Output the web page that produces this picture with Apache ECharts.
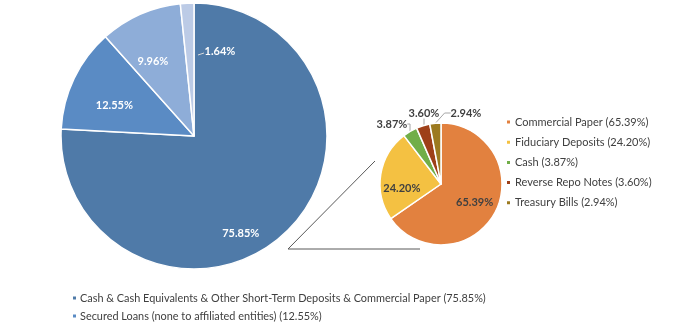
<!DOCTYPE html>
<html>
<head>
<meta charset="utf-8">
<script src="https://cdn.jsdelivr.net/npm/echarts@6/dist/echarts.min.js"></script>
<style>html,body{margin:0;padding:0;background:#fff}#c{width:700px;height:327px}</style>
</head>
<body>
<div id="c"></div>
<script>
var mainNames = ['Cash & Cash Equivalents & Other Short-Term Deposits & Commercial Paper', 'Secured Loans (none to affiliated entities)', 'Other Assets A', 'Other Assets B'];
var mainValues = [75.85, 12.55, 9.96, 1.64];
var subNames = ['Commercial Paper', 'Fiduciary Deposits', 'Cash', 'Reverse Repo Notes', 'Treasury Bills'];
var subValues = [65.39, 24.20, 3.87, 3.60, 2.94];

var mainColors = ['#4f7aa8', '#5a8bc4', '#8eadd8', '#bccbe6'];
var subColors = ['#e2813f', '#f4c142', '#71ae48', '#9e4019', '#9c7a20'];
var FONT = 'Lato';

// label nudges (style only)
var mainNudge = [[-1, 47], [-17, 0], [-13, -11], [0, 0]];
var subNudge = [[4, 3], [-6, 10], [0, 0], [0, 0], [0, 0]];

function fmtPct(v) { return v.toFixed(2) + '%'; }

var mainData = mainNames.map(function (n, i) {
  return { name: n, value: mainValues[i], itemStyle: { color: mainColors[i] } };
});
var subData = subNames.map(function (n, i) {
  var d = { name: n, value: subValues[i], itemStyle: { color: subColors[i] } };
  if (i >= 2) {
    d.label = { position: 'outside', color: '#404040' };
    d.labelLine = { show: true };
  }
  return d;
});

var chart = echarts.init(document.getElementById('c'));
chart.setOption({
  animation: false,
  backgroundColor: '#fff',
  textStyle: { fontFamily: FONT },
  legend: [{
    data: mainNames.slice(0, 2),
    orient: 'vertical',
    left: 71, top: 291, width: 600, height: 40,
    padding: 0,
    itemWidth: 5, itemHeight: 5, itemGap: 4,
    icon: 'rect',
    textStyle: { fontFamily: FONT, fontSize: 10.9, color: '#404040', lineHeight: 14, padding: [0, 0, 0, -2] },
    formatter: function (n) { return n + ' (' + fmtPct(mainValues[mainNames.indexOf(n)]) + ')'; },
    selectedMode: false
  }, {
    data: subNames,
    orient: 'vertical',
    left: 505, top: 115,
    padding: 0,
    itemWidth: 5, itemHeight: 5, itemGap: 6.2,
    icon: 'rect',
    textStyle: { fontFamily: FONT, fontSize: 11, color: '#404040', lineHeight: 14, padding: [0, 0, 0, -1] },
    formatter: function (n) { return n + ' (' + fmtPct(subValues[subNames.indexOf(n)]) + ')'; },
    selectedMode: false
  }],
  graphic: [
    { type: 'line', shape: { x1: 288, y1: 249, x2: 420, y2: 249 }, style: { stroke: '#595959', lineWidth: 1 }, z: 0 },
    { type: 'line', shape: { x1: 288, y1: 249, x2: 375, y2: 161 }, style: { stroke: '#595959', lineWidth: 1 }, z: 0 },
    { type: 'line', shape: { x1: 198, y1: 55, x2: 204, y2: 53 }, style: { stroke: '#d9d9d9', lineWidth: 1 }, z: 10 }
  ],
  series: [{
    type: 'pie',
    center: [194, 136],
    radius: [0, 133],
    startAngle: 90,
    clockwise: true,
    silent: true,
    data: mainData,
    itemStyle: { borderColor: '#fff', borderWidth: 1.5 },
    label: {
      show: true, position: 'inside',
      formatter: function (p) { return fmtPct(p.value); },
      color: '#fff', fontWeight: 'bold', fontSize: 11, fontFamily: FONT
    },
    labelLine: { show: false },
    labelLayout: function (p) {
      if (p.dataIndex === 3) {
        return { x: 220, y: 51, align: 'center', verticalAlign: 'middle' };
      }
      var n = mainNudge[p.dataIndex];
      return { dx: n[0], dy: n[1] };
    }
  }, {
    type: 'pie',
    center: [441, 184],
    radius: [0, 61],
    startAngle: 90,
    clockwise: true,
    silent: true,
    data: subData,
    itemStyle: { borderColor: '#fff', borderWidth: 1.5 },
    label: {
      show: true, position: 'inside',
      formatter: function (p) { return fmtPct(p.value); },
      color: '#404040', fontWeight: 'bold', fontSize: 11, fontFamily: FONT
    },
    labelLine: { show: false, length: 6, length2: 6, lineStyle: { color: '#a6a6a6', width: 1 } },
    labelLayout: function (p) {
      if (p.dataIndex === 2) return { x: 392, y: 124, align: 'center', verticalAlign: 'middle' };
      if (p.dataIndex === 3) return { x: 424, y: 113, align: 'center', verticalAlign: 'middle' };
      if (p.dataIndex === 4) return { x: 466, y: 113, align: 'center', verticalAlign: 'middle' };
      var n = subNudge[p.dataIndex];
      return { dx: n[0], dy: n[1] };
    }
  }]
});
</script>
</body>
</html>
